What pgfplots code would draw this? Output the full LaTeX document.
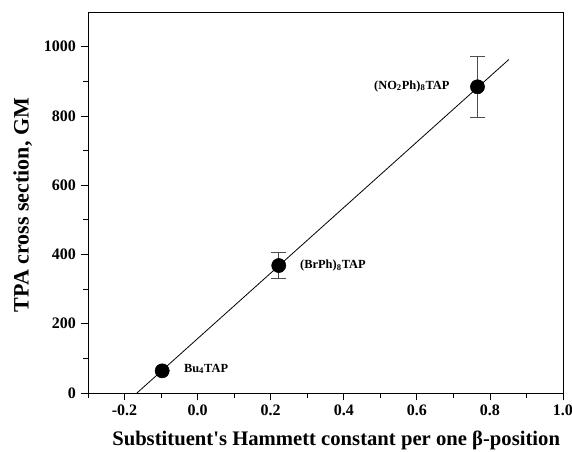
\documentclass[border=0pt]{standalone}
\usepackage{pgfplots}
\pgfplotsset{compat=1.18}
\usepackage{fontspec}
\setmainfont{Liberation Serif}
\begin{document}
\begin{tikzpicture}
\begin{axis}[
    scale only axis,
    width=356.25pt, height=285.75pt,
    xmin=-0.3, xmax=1.0, ymin=0, ymax=1100,
    xtick={-0.2,0,0.2,0.4,0.6,0.8,1.0},
    minor xtick={-0.3,-0.1,0.1,0.3,0.5,0.7,0.9},
    ytick={0,200,400,600,800,1000},
    minor ytick={100,300,500,700,900},
    x tick label style={/pgf/number format/fixed, /pgf/number format/fixed zerofill, /pgf/number format/precision=1},
    /pgf/number format/1000 sep={},
    /pgf/number format/assume math mode=true,
    xtick pos=bottom, ytick pos=left,
    tick align=outside,
    major tick length=5.6pt, minor tick length=3.5pt,
    tick style={black, line width=0.6pt},
    axis line style={line width=0.6pt},
    ticklabel style={font=\bfseries\fontsize{12}{13}\selectfont},
    scaled ticks=false,
    xlabel={Substituent\textquotesingle s Hammett constant per one β-position},
    ylabel={TPA cross section, GM},
    label style={font=\bfseries\fontsize{15.5}{17}\selectfont},
    xlabel style={yshift=-4pt, xshift=8pt},
    ylabel style={font=\bfseries\fontsize{16.5}{18}\selectfont, yshift=2pt, xshift=-2pt},
]
\coordinate (ll) at (rel axis cs:0,0);
% linear fit
\addplot[black, line width=0.6pt] coordinates {(-0.166,0) (0.852,963)};
% data with error bars
\addplot[only marks, mark=*, mark size=5.3pt, black,
    error bars/.cd, y dir=both, y explicit,
    error bar style={black!70, line width=0.6pt},
    error mark options={rotate=90, mark size=5.5pt, black!70, line width=0.6pt}]
coordinates {
    (-0.097,64) +- (0,0)
    (0.222,368) +- (0,37)
    (0.766,884) +- (0,87)
};
\node[anchor=west, font=\bfseries\fontsize{9.3}{10}\selectfont] at (axis cs:-0.050,70) {Bu\textsubscript{4}TAP};
\node[anchor=west, font=\bfseries\fontsize{9.3}{10}\selectfont] at (axis cs:0.268,367) {(BrPh)\textsubscript{8}TAP};
\node[anchor=east, font=\bfseries\fontsize{9.3}{10}\selectfont] at (axis cs:0.702,886) {(NO\textsubscript{2}Ph)\textsubscript{8}TAP};
\end{axis}
\pgfresetboundingbox
\path ([shift={(-66pt,-44.25pt)}]ll) rectangle ([shift={(363pt,294.75pt)}]ll);
\end{tikzpicture}
\end{document}
